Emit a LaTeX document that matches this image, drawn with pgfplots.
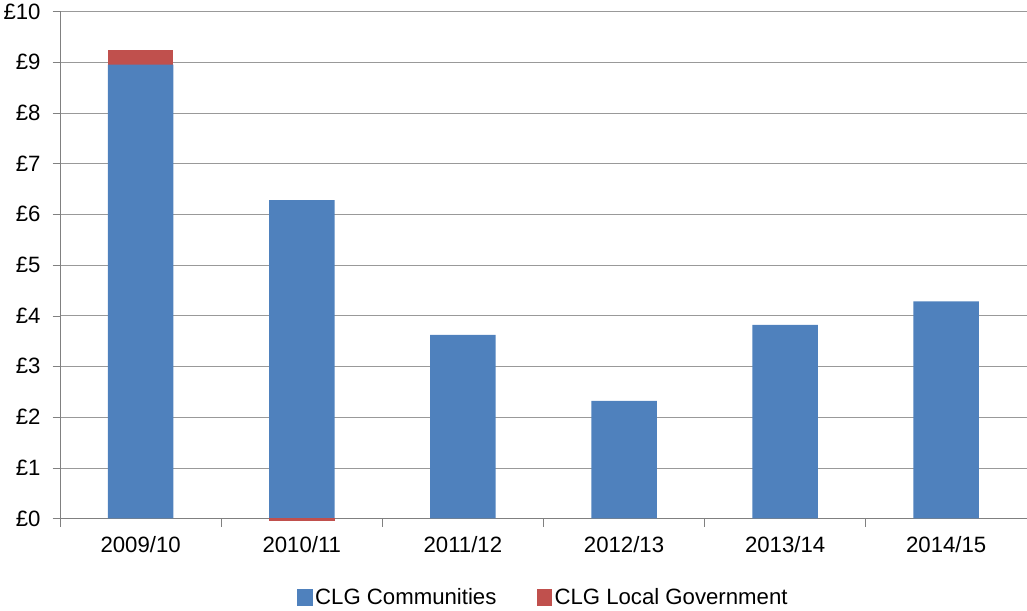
\documentclass[border=0pt]{standalone}
\usepackage{pgfplots}
\pgfplotsset{compat=1.18}
\usepackage{fontspec}
\setmainfont{Liberation Sans}
\definecolor{cblue}{RGB}{79,129,189}
\definecolor{cred}{RGB}{192,80,77}
\begin{document}
\begin{tikzpicture}[font=\fontsize{21}{25}\selectfont]
\begin{axis}[
  scale only axis, width=915pt, height=480pt,
  xmin=-0.5, xmax=5.5, ymin=0, ymax=10,
  ybar, bar width=62pt, bar shift=0pt,
  xtick={0,...,5}, xticklabels={2009/10,2010/11,2011/12,2012/13,2013/14,2014/15},
  x tick style={draw=none},
  ytick={0,...,10}, yticklabels={£0,£1,£2,£3,£4,£5,£6,£7,£8,£9,£10},
  ymajorgrids, grid style={gray!80},
  axis x line*=bottom, axis y line*=left,
  axis line style={gray},
  y tick style={draw=gray}, ytick align=outside, major tick length=7pt,
  tick label style={font=\fontsize{21}{25}\selectfont},
  x tick label style={yshift=-6pt},
  y tick label style={xshift=-8pt},
  clip=false,
  legend style={font=\fontsize{21}{25}\selectfont, at={(0.5,-0.13)}, anchor=north, draw=none, legend columns=2, /tikz/every even column/.append style={column sep=36pt}},
  legend image code/.code={\fill[#1] (0pt,-8pt) rectangle (15pt,8pt);},
]
\addplot[fill=cred, draw=none, forget plot] coordinates {(0,9.23)};
\addplot[fill=cblue, draw=none] coordinates {(0,8.95) (1,6.28) (2,3.62) (3,2.32) (4,3.82) (5,4.28)};
\addlegendentry{CLG Communities}
\addplot[fill=cred, draw=none] coordinates {(1,-0.05)};
\addlegendentry{CLG Local Government}
\pgfplotsinvokeforeach{-0.5,0.5,1.5,2.5,3.5,4.5,5.5}{\draw[gray] (axis cs:#1,0) -- ([yshift=-8pt]axis cs:#1,0);}
\end{axis}
\end{tikzpicture}
\end{document}
